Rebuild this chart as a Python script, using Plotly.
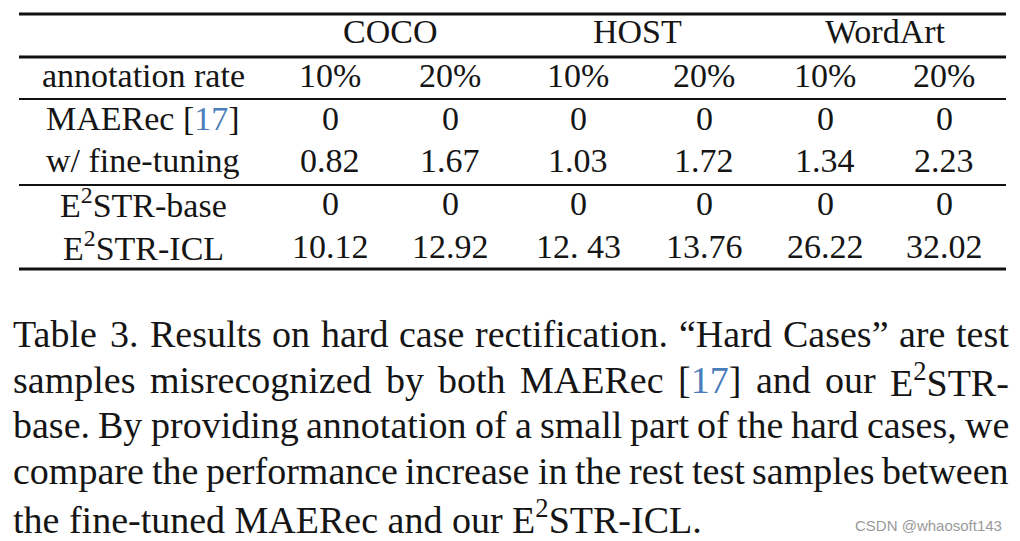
import plotly.graph_objects as go

# table content
groups = ["COCO", "HOST", "WordArt"]
rates = ["10%", "20%", "10%", "20%", "10%", "20%"]
rate_label = "annotation rate"
row_labels = ["MAERec [17]", "w/ fine-tuning", "E²STR-base", "E²STR-ICL"]
maerec = ["0", "0", "0", "0", "0", "0"]
maerec_ft = ["0.82", "1.67", "1.03", "1.72", "1.34", "2.23"]
e2str_base = ["0", "0", "0", "0", "0", "0"]
e2str_icl = ["10.12", "12.92", "12. 43", "13.76", "26.22", "32.02"]
rows = [maerec, maerec_ft, e2str_base, e2str_icl]

caption_lines = [
    "Table 3. Results on hard case rectification. “Hard Cases” are test",
    "samples misrecognized by both MAERec [17] and our E²STR-",
    "base. By providing annotation of a small part of the hard cases, we",
    "compare the performance increase in the rest test samples between",
    "the fine-tuned MAERec and our E²STR-ICL.",
]
watermark = "CSDN @whaosoft143"

# layout (pixels); the page body has an 8px margin, so ranges start at 8
W, H = 1020, 541
PAD = 8
label_x = 143
group_x = [390, 637, 885]
col_x = [330, 450, 578, 704, 825, 944]
header_y, rate_y = 31, 75
row_y = [118, 160, 203, 246]
rules = [(14, 3), (57, 3), (99, 2), (185, 2), (269, 3)]
rule_x0, rule_x1 = 19, 1006
cap_x0, cap_x1 = 12, 1008
cap_y = [334, 380, 425, 471, 517]

SERIF = "Liberation Serif"
INK = "#151515"
LINK = "#4a7ebb"
tsize, csize = 34, 38

# Times widths per 1000 em, used to justify caption lines
tw = dict(zip("abcdefghijklmnopqrstuvwxyz",
              [444, 500, 444, 500, 444, 333, 500, 500, 278, 278, 500, 278, 778,
               500, 500, 500, 500, 333, 389, 278, 500, 500, 722, 500, 500, 444]))
tw.update({"A": 722, "B": 667, "C": 667, "D": 722, "E": 611, "H": 722, "I": 333,
           "L": 611, "M": 889, "R": 667, "S": 556, "T": 611, ".": 250, ",": 250,
           "-": 333, "[": 333, "]": 333, "“": 444, "”": 444, " ": 250, "²": 350})
for d in "0123456789":
    tw[d] = 500


def text_w(s, size):
    return sum(tw.get(c, 500) for c in s) / 1000 * size


def html(s):
    s = s.replace("²", "<sup>2</sup>")
    return s.replace("[17]", "[<span style='color:%s'>17</span>]" % LINK)


fig = go.Figure()
ann = []


def put(x, y, s, size, anchor="center", color=INK, family=SERIF):
    ann.append(dict(x=x, y=y, xref="x", yref="y", text=html(s), showarrow=False,
                    xanchor=anchor, yanchor="middle", borderpad=0,
                    font=dict(family=family, size=size, color=color)))


for gx, g in zip(group_x, groups):
    put(gx, header_y, g, tsize)
put(label_x, rate_y, rate_label, tsize)
for cx, r in zip(col_x, rates):
    put(cx, rate_y, r, tsize)
for ry, lab, vals in zip(row_y, row_labels, rows):
    put(label_x, ry, lab, tsize)
    for cx, v in zip(col_x, vals):
        put(cx, ry, v, tsize)

shapes = [dict(type="line", xref="x", yref="y", x0=rule_x0, x1=rule_x1, y0=y, y1=y,
               line=dict(color="#111111", width=w)) for y, w in rules]

# caption: justified lines, last line left aligned
for i, (line, y) in enumerate(zip(caption_lines, cap_y)):
    words = line.split(" ")
    if i == len(caption_lines) - 1:
        put(cap_x0, y, line, csize, anchor="left")
        continue
    total = sum(text_w(w_, csize) for w_ in words)
    gap = (cap_x1 - cap_x0 - total) / (len(words) - 1)
    x = cap_x0
    for w_ in words:
        put(x, y, w_, csize, anchor="left")
        x += text_w(w_, csize) + gap

put(1003, 525, watermark, 15, anchor="right", color="#9a9a9a",
    family="Liberation Sans")

fig.update_layout(
    width=W, height=H, margin=dict(l=0, r=0, t=0, b=0),
    paper_bgcolor="white", plot_bgcolor="white", showlegend=False,
    xaxis=dict(range=[PAD, W + PAD], visible=False, fixedrange=True),
    yaxis=dict(range=[H + PAD, PAD], visible=False, fixedrange=True),
    annotations=ann, shapes=shapes,
)
fig.write_html("out.html")
